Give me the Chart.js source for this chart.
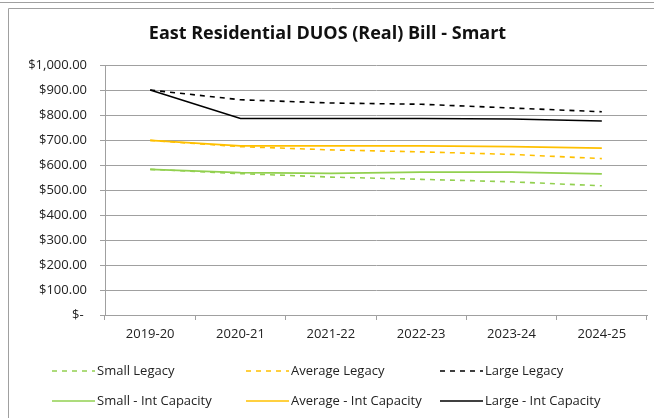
<!DOCTYPE html>
<html>
<head>
<meta charset="utf-8">
<script src="https://cdn.jsdelivr.net/npm/chart.js@4.4.1/dist/chart.umd.min.js"></script>
<style>
  html, body { margin: 0; padding: 0; background: #fff; }
  #wrap { width: 654px; height: 418px; }
</style>
</head>
<body>
<div id="wrap"><canvas id="canvas1" width="654" height="418"></canvas></div>
<script>
var categories = ['2019-20', '2020-21', '2021-22', '2022-23', '2023-24', '2024-25'];

var smallLegacy = [584, 567, 553, 544, 534, 518];
var averageLegacy = [700, 675, 662, 654, 644, 627];
var largeLegacy = [902, 863, 850, 845, 830, 815];
var smallIntCapacity = [584, 571, 568, 573, 573, 566];
var averageIntCapacity = [700, 678, 678, 678, 675, 669];
var largeIntCapacity = [902, 788, 788, 788, 786, 778];

var seriesNames = ['Small Legacy', 'Average Legacy', 'Large Legacy',
  'Small - Int Capacity', 'Average - Int Capacity', 'Large - Int Capacity'];

var green = '#92d050', gold = '#ffc000', black = '#000000';
var font = '"Open Sans", Lato, sans-serif';

function line(label, data, color, dashed) {
  return {
    label: label,
    data: data,
    borderColor: color,
    backgroundColor: color,
    borderWidth: 1.6,
    borderDash: dashed ? [5, 5] : [],
    pointRadius: 0,
    tension: 0,
    fill: false
  };
}

// frame around the chart, like the spreadsheet object border
var framePlugin = {
  id: 'frame',
  beforeDraw: function(chart) {
    var c = chart.ctx;
    c.save();
    c.strokeStyle = '#a0a0a0';
    c.lineWidth = 1;
    c.beginPath();
    c.moveTo(0, 2.5); c.lineTo(chart.width, 2.5);
    c.moveTo(chart.width, 8.5); c.lineTo(8.5, 8.5); c.lineTo(8.5, chart.height);
    c.stroke();
    c.restore();
  }
};

// legend laid out as a 3 column grid
var gridLegend = {
  id: 'gridLegend',
  afterDraw: function(chart) {
    var c = chart.ctx;
    var cols = [52, 246, 440];
    var rows = [chart.chartArea.bottom + 56, chart.chartArea.bottom + 86];
    var lineLen = 43;
    c.save();
    c.font = '13px ' + font;
    c.textBaseline = 'middle';
    chart.data.datasets.forEach(function(ds, i) {
      var x = cols[i % 3], y = rows[Math.floor(i / 3)];
      c.strokeStyle = ds.borderColor;
      c.lineWidth = ds.borderWidth;
      c.setLineDash(ds.borderDash);
      c.beginPath();
      c.moveTo(x, y); c.lineTo(x + lineLen, y);
      c.stroke();
      c.setLineDash([]);
      c.fillStyle = '#222';
      c.fillText(ds.label, x + lineLen + 2, y);
    });
    c.restore();
  }
};

var ctx = document.getElementById('canvas1').getContext('2d');
window.myLine = new Chart(ctx, {
  type: 'line',
  data: {
    labels: categories,
    datasets: [
      line(seriesNames[0], smallLegacy, green, true),
      line(seriesNames[1], averageLegacy, gold, true),
      line(seriesNames[2], largeLegacy, black, true),
      line(seriesNames[3], smallIntCapacity, green, false),
      line(seriesNames[4], averageIntCapacity, gold, false),
      line(seriesNames[5], largeIntCapacity, black, false)
    ]
  },
  options: {
    responsive: false,
    animation: false,
    layout: { padding: { left: 8, right: 7, top: 10, bottom: 73 } },
    plugins: {
      legend: { display: false },
      tooltip: { enabled: false },
      title: {
        display: true,
        text: 'East Residential DUOS (Real) Bill - Smart',
        color: '#111',
        font: { family: font, size: 18, weight: 'bold' },
        padding: { top: 13, bottom: 21 }
      }
    },
    scales: {
      x: {
        offset: true,
        grid: { offset: true, drawOnChartArea: false, drawTicks: true, tickLength: 5, color: '#a0a0a0' },
        border: { color: '#a0a0a0' },
        ticks: { color: '#222', font: { family: font, size: 13 }, padding: 6, maxRotation: 0 },
        afterFit: function(scale) { scale.height = 30; }
      },
      y: {
        min: 0,
        max: 1000,
        ticks: {
          stepSize: 100,
          color: '#222',
          font: { family: font, size: 13 },
          padding: 13,
          callback: function(v) {
            if (v === 0) return '$- ';
            return '$' + v.toLocaleString('en-US', { minimumFractionDigits: 2, maximumFractionDigits: 2 });
          }
        },
        grid: { color: '#a0a0a0', tickLength: 5 },
        border: { color: '#a0a0a0' },
        afterFit: function(scale) { scale.width = 97; }
      }
    }
  },
  plugins: [framePlugin, gridLegend]
});
</script>
</body>
</html>
